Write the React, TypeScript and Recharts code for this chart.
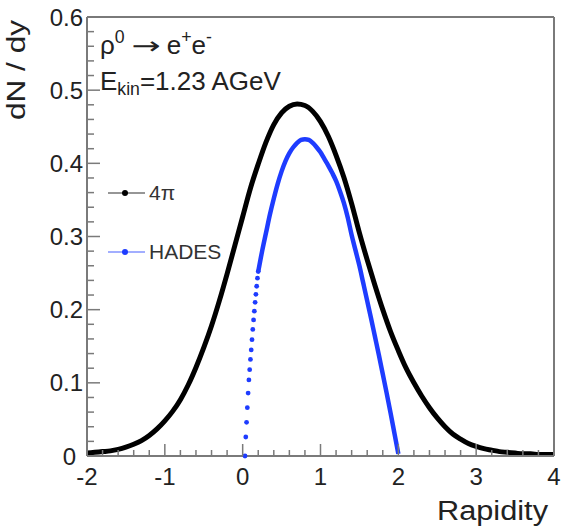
import React from 'react';
import { ComposedChart, Line, XAxis, YAxis, Legend } from 'recharts';

const FONT = '"Liberation Sans", Arial, Helvetica, sans-serif';
const AXIS_GREY = '#7a7a7a';
const TEXT = '#222';
const BLUE = '#1e3cff';

// 4pi acceptance, dN/dy vs rapidity
const rapidity4pi = [
	-2.0, -1.9, -1.8, -1.7, -1.6, -1.5, -1.4, -1.3, -1.2, -1.1, -1.0, -0.9, -0.8, -0.7, -0.6, -0.5,
	-0.4, -0.3, -0.2, -0.1, 0.0, 0.1, 0.2, 0.3, 0.4, 0.5, 0.6, 0.7, 0.8, 0.9, 1.0, 1.1, 1.2, 1.3,
	1.4, 1.5, 1.6, 1.7, 1.8, 1.9, 2.0, 2.1, 2.2, 2.3, 2.4, 2.5, 2.6, 2.7, 2.8, 2.9, 3.0, 3.1, 3.2,
	3.3, 3.4, 3.5, 3.6, 3.7, 3.8, 3.9, 4.0,
];
const dndy4pi = [
	0.004, 0.005, 0.006, 0.007, 0.009, 0.012, 0.016, 0.021, 0.028, 0.037, 0.048, 0.061, 0.077,
	0.097, 0.121, 0.148, 0.178, 0.212, 0.249, 0.288, 0.327, 0.366, 0.399, 0.429, 0.453, 0.469,
	0.478, 0.481, 0.479, 0.471, 0.457, 0.437, 0.411, 0.381, 0.345, 0.305, 0.268, 0.233, 0.2,
	0.17, 0.144, 0.12, 0.1, 0.082, 0.066, 0.052, 0.04, 0.03, 0.023, 0.017, 0.013, 0.01, 0.008,
	0.006, 0.005, 0.004, 0.003, 0.003, 0.002, 0.002, 0.002,
];

// HADES acceptance: steep lower edge (separate markers) ...
const rapidityHadesEdge = [
	0.03, 0.04, 0.05, 0.06, 0.07, 0.08, 0.09, 0.1, 0.11, 0.12, 0.13, 0.14, 0.15, 0.16, 0.17, 0.18,
	0.19, 0.2,
];
const dndyHadesEdge = [
	0.0, 0.026, 0.046, 0.066, 0.086, 0.104, 0.118, 0.132, 0.145, 0.159, 0.173, 0.186, 0.198, 0.21,
	0.221, 0.232, 0.243, 0.252,
];
// ... and the rest of the distribution
const rapidityHades = [
	0.2, 0.25, 0.3, 0.35, 0.4, 0.45, 0.5, 0.55, 0.6, 0.65, 0.7, 0.75, 0.8, 0.85, 0.9, 0.95, 1.0,
	1.05, 1.1, 1.15, 1.2, 1.25, 1.3, 1.35, 1.4, 1.45, 1.5, 1.55, 1.6, 1.65, 1.7, 1.75, 1.8, 1.85,
	1.9, 1.95, 2.0,
];
const dndyHades = [
	0.252, 0.28, 0.305, 0.33, 0.352, 0.372, 0.389, 0.403, 0.414, 0.422, 0.428, 0.432, 0.433,
	0.432, 0.428, 0.422, 0.415, 0.406, 0.397, 0.387, 0.376, 0.362, 0.346, 0.326, 0.302, 0.281,
	0.26, 0.236, 0.212, 0.188, 0.163, 0.138, 0.112, 0.086, 0.059, 0.031, 0.003,
];

const xTicks = [
	-2, -1.8, -1.6, -1.4, -1.2, -1, -0.8, -0.6, -0.4, -0.2, 0, 0.2, 0.4, 0.6, 0.8, 1, 1.2, 1.4,
	1.6, 1.8, 2, 2.2, 2.4, 2.6, 2.8, 3, 3.2, 3.4, 3.6, 3.8, 4,
];
const xMajor = [-2, -1, 0, 1, 2, 3, 4];
const yTicks = [
	0, 0.02, 0.04, 0.06, 0.08, 0.1, 0.12, 0.14, 0.16, 0.18, 0.2, 0.22, 0.24, 0.26, 0.28, 0.3,
	0.32, 0.34, 0.36, 0.38, 0.4, 0.42, 0.44, 0.46, 0.48, 0.5, 0.52, 0.54, 0.56, 0.58, 0.6,
];
const yMajor = [0, 0.1, 0.2, 0.3, 0.4, 0.5, 0.6];

const toPoints = (xs: number[], ys: number[]) => xs.map((x, i) => ({ x, y: ys[i] }));
const data4pi = toPoints(rapidity4pi, dndy4pi);
const dataHadesEdge = toPoints(rapidityHadesEdge, dndyHadesEdge);
const dataHades = toPoints(rapidityHades, dndyHades);

const isMajor = (v: number, majors: number[]) => majors.some((m) => Math.abs(m - v) < 1e-6);

// ROOT style ticks: pointing into the frame
const BottomTick = ({ x, y, payload }: any) => {
	const major = isMajor(payload.value, xMajor);
	return (
		<g>
			<line x1={x} y1={y} x2={x} y2={y - (major ? 12 : 6)} stroke={AXIS_GREY} strokeWidth={1.5} />
			{major && (
				<text x={x} y={y + 29} textAnchor="middle" fontSize={24} fill={TEXT} fontFamily={FONT}>
					{String(payload.value)}
				</text>
			)}
		</g>
	);
};

const TopTick = ({ x, y, payload }: any) => {
	const major = isMajor(payload.value, xMajor);
	return <line x1={x} y1={y} x2={x} y2={y + (major ? 12 : 6)} stroke={AXIS_GREY} strokeWidth={1.5} />;
};

const LeftTick = ({ x, y, payload }: any) => {
	const major = isMajor(payload.value, yMajor);
	const label = payload.value === 0 ? '0' : payload.value.toFixed(1);
	// the "0" sits next to the "-2" of the x axis, keep it clear of it
	const gap = payload.value === 0 ? 11 : 4;
	return (
		<g>
			<line x1={x} y1={y} x2={x + (major ? 13 : 7)} y2={y} stroke={AXIS_GREY} strokeWidth={1.5} />
			{major && (
				<text x={x - gap} y={y} dy="0.36em" textAnchor="end" fontSize={24} fill={TEXT} fontFamily={FONT}>
					{label}
				</text>
			)}
		</g>
	);
};

const RightTick = ({ x, y, payload }: any) => {
	const major = isMajor(payload.value, yMajor);
	return <line x1={x} y1={y} x2={x - (major ? 13 : 7)} y2={y} stroke={AXIS_GREY} strokeWidth={1.5} />;
};

const XTitle = ({ viewBox }: any) => (
	<text
		x={viewBox.x + viewBox.width - 6}
		y={viewBox.y + 64}
		textAnchor="end"
		fontSize={27}
		fill={TEXT}
		fontFamily={FONT}
		textLength={111}
		lengthAdjust="spacingAndGlyphs"
	>
		Rapidity
	</text>
);

const YTitle = ({ viewBox }: any) => {
	const x = viewBox.x + viewBox.width - 62;
	const y = viewBox.y + 3;
	return (
		<text
			x={x}
			y={y}
			transform={`rotate(-90 ${x} ${y})`}
			textAnchor="end"
			fontSize={26}
			fill={TEXT}
			fontFamily={FONT}
			textLength={100}
			lengthAdjust="spacingAndGlyphs"
		>
			dN / dy
		</text>
	);
};

const renderLegend = (props: any) => {
	const items = (props.payload || []).filter((e: any) => e.type !== 'none');
	return (
		<div style={{ fontFamily: FONT }}>
			{items.map((entry: any) => (
				<div key={entry.value} style={{ display: 'flex', alignItems: 'center', height: 59 }}>
					<svg width={40} height={14}>
						<line x1={0} y1={7} x2={37} y2={7} stroke={entry.color} strokeOpacity={0.55} strokeWidth={1.5} />
						<circle cx={17} cy={7} r={3} fill={entry.color} />
					</svg>
					<span style={{ fontSize: 21, color: '#333', marginLeft: 1 }}>{entry.value}</span>
				</div>
			))}
		</div>
	);
};

const sup = { fontSize: '0.68em', position: 'relative' as const, top: '-0.62em' };
const sub = { fontSize: '0.68em', position: 'relative' as const, top: '0.3em' };
const arrow = {
	display: 'inline-block',
	fontFamily: '"DejaVu Sans"',
	fontSize: 24,
	transform: 'scaleX(1.45)',
	margin: '0 11px 0 11px',
};

const noteStyle = {
	position: 'absolute' as const,
	left: 100,
	fontFamily: FONT,
	fontSize: 26,
	lineHeight: 1,
	color: TEXT,
	whiteSpace: 'nowrap' as const,
};

export default function App() {
	return (
		<div style={{ position: 'absolute', left: 0, top: 0, width: 562, height: 528, background: '#fff' }}>
			<ComposedChart width={562} height={528} margin={{ top: 16, right: 7, bottom: 71, left: 86 }}>
				<XAxis
					type="number"
					dataKey="x"
					domain={[-2, 4]}
					ticks={xTicks}
					interval={0}
					height={1}
					tickSize={0}
					tickMargin={0}
					tickLine={false}
					tick={(p: any) => <BottomTick {...p} />}
					axisLine={{ stroke: AXIS_GREY, strokeWidth: 2 }}
					label={<XTitle />}
				/>
				<XAxis
					xAxisId="top"
					orientation="top"
					type="number"
					dataKey="x"
					domain={[-2, 4]}
					ticks={xTicks}
					interval={0}
					height={1}
					tickSize={0}
					tickMargin={0}
					tickLine={false}
					tick={(p: any) => <TopTick {...p} />}
					axisLine={{ stroke: AXIS_GREY, strokeWidth: 2 }}
				/>
				<YAxis
					type="number"
					domain={[0, 0.6]}
					ticks={yTicks}
					interval={0}
					width={1}
					tickSize={0}
					tickMargin={0}
					tickLine={false}
					tick={(p: any) => <LeftTick {...p} />}
					axisLine={{ stroke: AXIS_GREY, strokeWidth: 2 }}
					label={<YTitle />}
				/>
				<YAxis
					yAxisId="right"
					orientation="right"
					type="number"
					domain={[0, 0.6]}
					ticks={yTicks}
					interval={0}
					width={1}
					tickSize={0}
					tickMargin={0}
					tickLine={false}
					tick={(p: any) => <RightTick {...p} />}
					axisLine={{ stroke: AXIS_GREY, strokeWidth: 2 }}
				/>
				<Line
					data={data4pi}
					dataKey="y"
					name="4π"
					type="monotone"
					stroke="#000"
					strokeWidth={5}
					dot={false}
					isAnimationActive={false}
				/>
				<Line
					data={dataHades}
					dataKey="y"
					name="HADES"
					type="monotone"
					stroke={BLUE}
					strokeWidth={4.5}
					dot={false}
					isAnimationActive={false}
				/>
				<Line
					data={dataHadesEdge}
					dataKey="y"
					name="HADES edge"
					legendType="none"
					stroke="none"
					dot={{ r: 2.4, fill: BLUE, stroke: 'none' }}
					isAnimationActive={false}
				/>
				<Legend
					layout="vertical"
					align="center"
					verticalAlign="middle"
					content={renderLegend}
					wrapperStyle={{ left: 108, top: 163, width: 'auto' }}
				/>
			</ComposedChart>
			<div style={{ ...noteStyle, top: 32 }}>
				ρ<span style={sup}>0</span>
				<span style={arrow}>→</span>e<span style={sup}>+</span>e<span style={sup}>-</span>
			</div>
			<div style={{ ...noteStyle, top: 68 }}>
				E<span style={sub}>kin</span>=1.23 AGeV
			</div>
		</div>
	);
}
